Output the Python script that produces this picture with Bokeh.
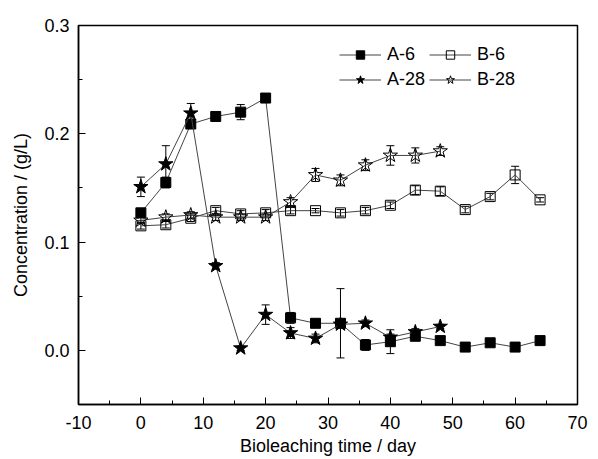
from bokeh.plotting import figure
from bokeh.models import ColumnDataSource, Whisker, TeeHead, Legend, LegendItem, FixedTicker, NumeralTickFormatter, Range1d
from bokeh.embed import file_html
from bokeh.resources import INLINE

# ---- data ----
days_A6 = [0, 4, 8, 12, 16, 20, 24, 28, 32, 36, 40, 44, 48, 52, 56, 60, 64]
A6 = [0.127, 0.155, 0.209, 0.216, 0.220, 0.233, 0.030, 0.025, 0.025, 0.005, 0.008, 0.013, 0.009, 0.003, 0.007, 0.003, 0.009]
A6_err = [0.003, 0.005, 0.003, 0.004, 0.007, 0.003, 0.005, 0.003, 0.032, 0.005, 0.011, 0.004, 0.003, 0.002, 0.002, 0.002, 0.004]

days_B6 = [0, 4, 8, 12, 16, 20, 24, 28, 32, 36, 40, 44, 48, 52, 56, 60, 64]
B6 = [0.115, 0.116, 0.122, 0.129, 0.126, 0.127, 0.129, 0.129, 0.127, 0.129, 0.134, 0.148, 0.147, 0.130, 0.142, 0.162, 0.139]
B6_err = [0.003, 0.003, 0.003, 0.003, 0.003, 0.003, 0.003, 0.002, 0.003, 0.003, 0.003, 0.004, 0.004, 0.003, 0.003, 0.008, 0.002]

days_A28 = [0, 4, 8, 12, 16, 20, 24, 28, 32, 36, 40, 44, 48]
A28 = [0.151, 0.172, 0.219, 0.078, 0.002, 0.033, 0.016, 0.011, 0.024, 0.025, 0.012, 0.017, 0.022]
A28_err = [0.009, 0.017, 0.009, 0.003, 0.002, 0.009, 0.005, 0.004, 0.003, 0.003, 0.003, 0.003, 0.002]

days_B28 = [0, 4, 8, 12, 16, 20, 24, 28, 32, 36, 40, 44, 48]
B28 = [0.120, 0.123, 0.125, 0.123, 0.123, 0.123, 0.137, 0.162, 0.157, 0.171, 0.180, 0.180, 0.184]
B28_err = [0.003, 0.003, 0.003, 0.003, 0.003, 0.003, 0.004, 0.006, 0.005, 0.005, 0.009, 0.007, 0.004]

x_ticks = [-10, 0, 10, 20, 30, 40, 50, 60, 70]
y_ticks = [0.0, 0.1, 0.2, 0.3]

FONT = "Liberation Sans"

p = figure(width=590, height=459, output_backend="svg", toolbar_location=None,
           x_range=Range1d(-10, 70), y_range=Range1d(-0.05, 0.3),
           min_border_left=78, min_border_right=13, min_border_top=25, min_border_bottom=55)
p.xgrid.visible = False
p.ygrid.visible = False
p.outline_line_color = "black"
p.outline_line_width = 1.5
p.background_fill_color = "white"
p.border_fill_color = "white"

p.xaxis.ticker = FixedTicker(ticks=x_ticks, minor_ticks=[-5, 5, 15, 25, 35, 45, 55, 65])
p.yaxis.ticker = FixedTicker(ticks=y_ticks, minor_ticks=[-0.05, 0.05, 0.15, 0.25])
p.yaxis.formatter = NumeralTickFormatter(format="0.0")
p.xaxis.major_label_overrides = {-10: "-10", "-10": "-10"}
for ax in (p.xaxis[0], p.yaxis[0]):
    ax.major_tick_in = 7
    ax.major_tick_out = 0
    ax.minor_tick_in = 4
    ax.minor_tick_out = 0
    ax.axis_line_color = "black"
    ax.axis_line_width = 1.5
    ax.major_tick_line_color = "black"
    ax.minor_tick_line_color = "black"
    ax.major_label_text_font = FONT
    ax.major_label_text_font_size = "18px"
    ax.major_label_text_color = "black"
    ax.axis_label_text_font = FONT
    ax.axis_label_text_font_size = "18px"
    ax.axis_label_text_font_style = "normal"
    ax.axis_label_text_color = "black"
p.xaxis.axis_label = "Bioleaching time / day"
p.yaxis.axis_label = "Concentration / (g/L)"
p.xaxis.major_label_standoff = 11
p.yaxis.major_label_standoff = 9
p.xaxis.axis_label_standoff = 4
p.yaxis.axis_label_standoff = 10

items = []
def series(days, vals, errs, marker, size, filled, name):
    src = ColumnDataSource(dict(x=days, y=vals,
                                lo=[v - e for v, e in zip(vals, errs)],
                                hi=[v + e for v, e in zip(vals, errs)]))
    ln = p.line("x", "y", source=src, line_color="#444444", line_width=1)
    w = Whisker(base="x", lower="lo", upper="hi", source=src, dimension="height",
                line_color="black", line_width=1,
                upper_head=TeeHead(size=8, line_color="black", line_width=1),
                lower_head=TeeHead(size=8, line_color="black", line_width=1))
    p.add_layout(w)
    sc = p.scatter("x", "y", source=src, marker=marker, size=size,
                   fill_color="black" if filled else "white",
                   fill_alpha=1.0 if filled else 0.0,
                   line_color="black", line_width=1)
    items.append(LegendItem(label=name, renderers=[ln, sc]))

series(days_B6, B6, B6_err, "square", 10, False, "B-6")
series(days_B28, B28, B28_err, "star", 15, False, "B-28")
series(days_A6, A6, A6_err, "square", 10, True, "A-6")
series(days_A28, A28, A28_err, "star", 15, True, "A-28")

order = {"A-6": 0, "B-6": 1, "A-28": 2, "B-28": 3}
items.sort(key=lambda it: order[it.label.value])
legend = Legend(items=items, ncols=2, orientation="horizontal", location=(261, 314),
                border_line_color=None, background_fill_alpha=0,
                glyph_width=42, glyph_height=21, label_height=21, label_standoff=6,
                spacing=4, padding=0, margin=0,
                label_text_font=FONT, label_text_font_size="18px", label_text_color="black")
p.add_layout(legend, "center")

open("out.html", "w").write(file_html(p, INLINE))
